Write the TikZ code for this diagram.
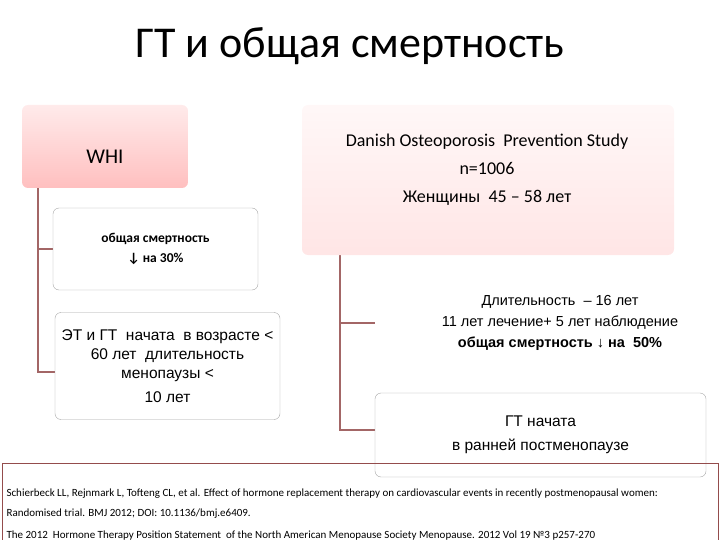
\documentclass[tikz,border=0pt]{standalone}
\usepackage{fontspec}
\setmainfont{Carlito}
\newfontfamily\arial{Liberation Sans}
\begin{document}
\begin{tikzpicture}[x=1pt,y=-1pt,
  conn/.style={draw=red!40!black!60,line width=1.2pt},
  whitebox/.style={draw=black!35,fill=white,rounded corners=6pt,align=center,font=\fontsize{13}{16}\selectfont}]
\useasboundingbox (0,0) rectangle (720,540);
\node[font=\fontsize{44}{48}\selectfont] (title) at (350,46) {ГТ и общая смертность};
\coordinate (wl) at (38,188);
\coordinate (wb) at (38,372);
\coordinate (dl) at (340,255);
\coordinate (db) at (340,430);
\draw[conn] (wl) -- (wb) -- (55,372);
\draw[conn] (38,249) -- (53,249);
\draw[conn] (dl) -- (db) -- (375,430);
\draw[conn] (340,323) -- (375,323);
\shade[rounded corners=6pt,top color=red!8,bottom color=red!25] (22,105) rectangle (188,188);
\node[font=\fontsize{21}{24}\selectfont] (whi) at (105,157) {WHI};
\shade[rounded corners=6pt,top color=red!3,bottom color=red!10] (302,105) rectangle (674,255);
\node[align=center,font=\fontsize{18}{28}\selectfont] (dan) at (487,170) {Danish Osteoporosis\ \ Prevention Study\\n=1006\\Женщины\ \ 45 – 58 лет};
\node[whitebox,minimum width=205pt,minimum height=82pt,font=\bfseries\fontsize{13.5}{20}\selectfont] (b1) at (155.5,249) {общая смертность\\↓ на 30\%};
\node[whitebox,minimum width=225pt,minimum height=107pt,font=\arial\fontsize{15.5}{19}\selectfont] (b2) at (167.5,366) {ЭТ и ГТ\ \ начата\ \ в возрасте <\\60 лет\ \ длительность\\менопаузы <\\[5pt]10 лет};
\node[draw=none,fill=white,rounded corners=6pt,minimum width=340pt,minimum height=100pt,align=center,font=\arial\fontsize{14.5}{21}\selectfont] (b3) at (560,323) {Длительность\ \ – 16 лет\\11 лет лечение+ 5 лет наблюдение\\\textbf{общая смертность ↓ на\ \ 50\%}};
\node[whitebox,minimum width=331pt,minimum height=84pt,font=\arial\fontsize{15.5}{24}\selectfont] (b4) at (540.5,435) {ГТ начата\\в ранней постменопаузе};
\node[draw=red!40!black!70,line width=1pt,minimum width=716pt,minimum height=80pt,anchor=north west,inner sep=0pt] (ref) at (2,463) {};
\node[anchor=north west,align=left,font=\fontsize{11}{20}\selectfont] (reftxt) at (3,485) {Schierbeck LL, Rejnmark L, Tofteng CL, et al. Effect of hormone replacement therapy on cardiovascular events in recently postmenopausal women:\\Randomised trial. BMJ 2012; DOI: 10.1136/bmj.e6409.\\[2pt]The 2012\ \ Hormone Therapy Position Statement\ \ of the North American Menopause Society Menopause. 2012 Vol 19 №3 p257-270};
\end{tikzpicture}
\end{document}
